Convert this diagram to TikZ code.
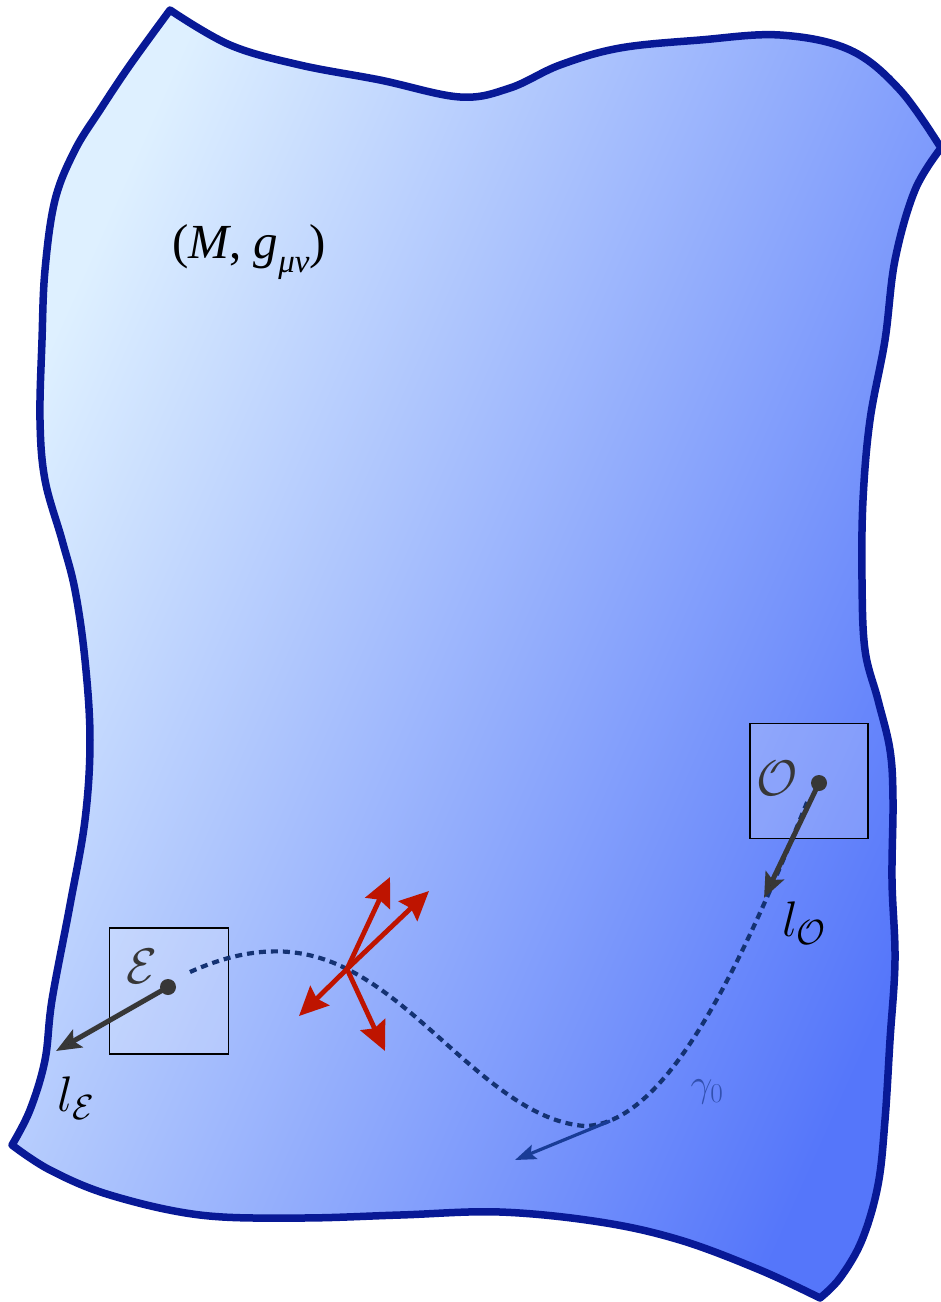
\documentclass[tikz,border=0pt]{standalone}
\usepackage{fix-cm}
\usepackage{fontspec}
\usetikzlibrary{arrows.meta}
\newfontfamily\timesfont{Liberation Serif}
\definecolor{edgeblue}{RGB}{8,25,150}
\definecolor{filllight}{RGB}{222,240,255}
\definecolor{fillmid}{RGB}{168,200,254}
\definecolor{filldark}{RGB}{85,118,250}
\definecolor{curveblue}{RGB}{20,50,115}
\definecolor{tanblue}{RGB}{25,60,150}
\definecolor{redarr}{RGB}{190,20,0}
\definecolor{labgray}{RGB}{55,55,55}
\definecolor{gammablue}{RGB}{50,80,175}
\tikzset{
  frame/.style={draw=black, line width=1.8pt, fill=white, fill opacity=0.2},
  pdot/.style={circle, fill=labgray, inner sep=0pt, minimum size=16pt},
  larrow/.style={draw=labgray, line width=5pt, -{Stealth[length=25pt,width=20pt,inset=5pt,fill=black]}},
  rarrow/.style={draw=redarr, line width=4.8pt, -{Stealth[length=29pt,width=27pt,inset=4pt]}},
  bigtext/.style={font=\fontsize{50}{54}\selectfont},
}
\begin{document}
\begin{tikzpicture}[x=1pt,y=-1pt]
\useasboundingbox (0,0) rectangle (941,1302);
% manifold
\shade[draw=edgeblue, line width=7.5pt, line join=round, top color=filllight, middle color=fillmid, bottom color=filldark, shading angle=66]
  plot[smooth, tension=0.6] coordinates {(170,10) (230,45) (300,65) (380,80) (460,97) (510,88) (560,65) (620,48) (700,40) (780,35) (850,50) (900,90) (941,148)}
  -- plot[smooth, tension=0.6] coordinates {(941,148) (915,190) (895,260) (885,340) (870,420) (863,500) (862,580) (865,650) (878,700) (890,750) (893,800) (892,880) (895,960) (890,1040) (885,1120) (878,1185) (862,1240) (840,1278) (820,1298)}
  -- plot[smooth, tension=0.6] coordinates {(820,1298) (760,1270) (680,1240) (600,1222) (500,1212) (400,1215) (300,1218) (200,1215) (110,1195) (50,1170) (12,1145)}
  -- plot[smooth, tension=0.6] coordinates {(12,1145) (30,1110) (45,1060) (52,1000) (70,905) (85,820) (90,740) (85,660) (75,590) (62,540) (45,480) (40,420) (42,340) (45,270) (55,200) (75,150) (100,110) (130,65) (170,10)}
  -- cycle;
% title
\node (title) at (249,252) {\timesfont\fontsize{49}{53}\selectfont(\textit{M}, \textit{g}\raisebox{-0.28em}{\fontsize{33}{35}\selectfont\textit{μν}})};
% boxes
\node[frame, minimum width=119pt, minimum height=126pt, inner sep=0pt] (ebox) at (169,991) {};
\node[frame, minimum width=118pt, minimum height=115pt, inner sep=0pt] (obox) at (809,781) {};
% curve gamma
\draw[curveblue, line width=4.2pt, dash pattern=on 7pt off 5pt]
  (190,972) .. controls (250,945) and (300,945) .. (347,969)
  .. controls (430,1010) and (500,1120) .. (585,1126)
  .. controls (670,1124) and (745,955) .. (808,800);
\coordinate (tp) at (610,1121);
\coordinate (tq) at (515,1160);
\draw[tanblue, line width=3.2pt, -{Stealth[length=21pt,width=15pt,inset=4pt]}] (tp) -- (tq);
\node[text=gammablue, font=\fontsize{39}{41}\selectfont] (glab) at (707,1092) {$\gamma_0$};
% red arrows
\coordinate (x) at (347,969);
\coordinate (r1) at (390,877);
\coordinate (r2) at (429,891);
\coordinate (r3) at (299,1016);
\coordinate (r4) at (385,1051);
\draw[rarrow] (x) -- (r1);
\draw[rarrow] (x) -- (r2);
\draw[rarrow] (x) -- (r3);
\draw[rarrow] (x) -- (r4);
% emitter
\node[text=labgray, bigtext] (elab) at (142,966) {$\mathcal{E}$};
\node[pdot] (edot) at (168,987) {};
\coordinate (eend) at (56,1051);
\draw[larrow] (edot.center) -- (eend);
\node[bigtext] (le) at (76,1098) {$l_{\mathcal{E}}$};
% observer
\node[text=labgray, bigtext] (olab) at (777,778) {$\mathcal{O}$};
\node[pdot] (odot) at (819,783) {};
\coordinate (oend) at (764,898);
\draw[larrow] (odot.center) -- (oend);
\node[bigtext] (lo) at (804,923) {$l_{\mathcal{O}}$};
\end{tikzpicture}
\end{document}
